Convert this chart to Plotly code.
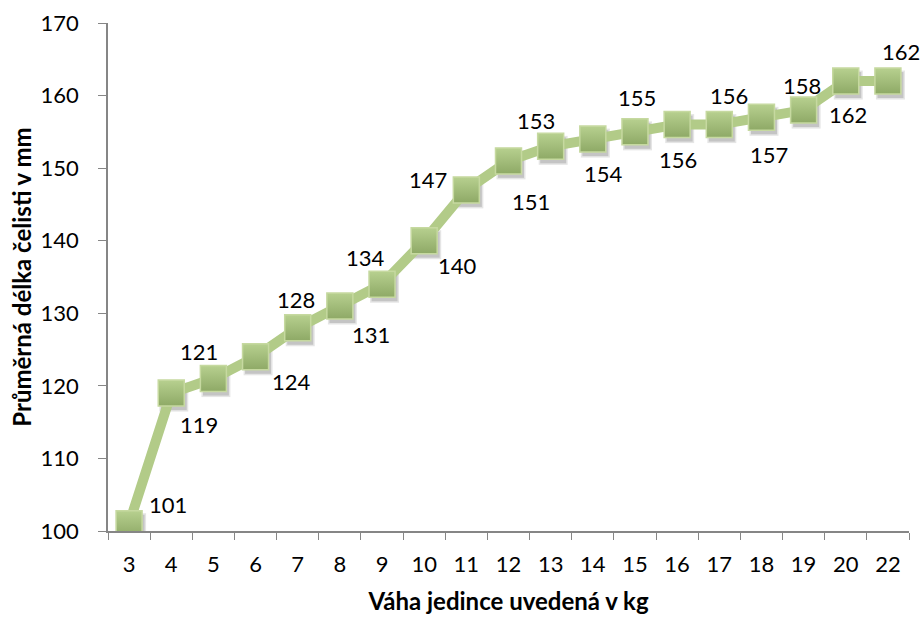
import plotly.graph_objects as go

# Weight categories (kg) and mean jaw length (mm)
vaha = ["3", "4", "5", "6", "7", "8", "9", "10", "11", "12",
        "13", "14", "15", "16", "17", "18", "19", "20", "22"]
delka = [101, 119, 121, 124, 128, 131, 134, 140, 147, 151,
         153, 154, 155, 156, 156, 157, 158, 162, 162]

# Pixel offsets of each value label relative to its marker
label_dx = [39, 28, -14, 36, -2, 31, -17, 33, -38, 22, -15, 11, 2, 1, 10, 8, -2, 2, 13]
label_dy = [-19, 31, -27, 25, -28, 28, -27, 25, -10, 41, -26, 34, -34, 35, -29, 37, -25, 33, -30]

FONT = "Lato"
AXIS_COLOR = "#868686"

Y_RANGE = [100, 170]
X_RANGE = [-0.5, len(vaha) - 0.5]
# Drop-shadow offset of the markers, expressed in axis units
SHADOW_DX = 0.06
SHADOW_DY = 0.55

fig = go.Figure()

# Soft shadow under the markers, drawn on a hidden, slightly shifted axis pair
fig.add_trace(go.Scatter(
    x=vaha, y=delka, xaxis="x", yaxis="y",
    mode="markers",
    marker=dict(symbol="square", size=29, color="rgba(0,0,0,0.10)",
                line=dict(width=0)),
    hoverinfo="skip", showlegend=False,
))
fig.add_trace(go.Scatter(
    x=vaha, y=delka, xaxis="x", yaxis="y",
    mode="markers",
    marker=dict(symbol="square", size=26, color="rgba(0,0,0,0.14)",
                line=dict(width=0)),
    hoverinfo="skip", showlegend=False,
))

# The series itself on the visible axes
fig.add_trace(go.Scatter(
    x=vaha, y=delka, xaxis="x2", yaxis="y2",
    mode="lines+markers",
    line=dict(color="#b2cb88", width=10),
    marker=dict(symbol="square", size=26, color="#b7d08f",
                gradient=dict(type="vertical", color="#8ea966"),
                line=dict(color="#c6d9a0", width=1.5)),
    hoverinfo="x+y",
    showlegend=False,
))

# Value labels, placed on the category index of each point
for i, (y, dx, dy) in enumerate(zip(delka, label_dx, label_dy)):
    fig.add_annotation(x=i, y=y, xref="x2", yref="y2", text=str(y),
                       showarrow=False, xshift=dx, yshift=-dy,
                       font=dict(family=FONT, size=22, color="#000000"))

fig.update_layout(
    width=923, height=619,
    margin=dict(l=108, r=14, t=23, b=88),
    paper_bgcolor="white", plot_bgcolor="white",
    font=dict(family=FONT, size=17, color="#000000"),
    xaxis=dict(
        type="category", visible=False,
        range=[X_RANGE[0] - SHADOW_DX, X_RANGE[1] - SHADOW_DX],
    ),
    yaxis=dict(
        visible=False,
        range=[Y_RANGE[0] + SHADOW_DY, Y_RANGE[1] + SHADOW_DY],
    ),
    xaxis2=dict(
        type="category", overlaying="x", side="bottom", range=X_RANGE,
        automargin=False,
        showgrid=False, zeroline=False,
        showline=True, linecolor=AXIS_COLOR, linewidth=1.5,
        ticks="outside", tickson="boundaries", ticklen=7, tickcolor=AXIS_COLOR,
        tickfont=dict(family=FONT, size=22),
        ticklabelstandoff=13,
        title=dict(text="<b>Váha jedince uvedená v kg</b>", standoff=17,
                   font=dict(family=FONT, size=24)),
    ),
    yaxis2=dict(
        overlaying="y", side="left", range=Y_RANGE, dtick=10,
        automargin=False,
        showgrid=False, zeroline=False,
        showline=True, linecolor=AXIS_COLOR, linewidth=1.5,
        ticks="outside", ticklen=8, tickcolor=AXIS_COLOR,
        tickfont=dict(family=FONT, size=22),
        ticklabelstandoff=15,
        title=dict(text="<b>Průměrná délka čelisti v mm</b>", standoff=2,
                   font=dict(family=FONT, size=24)),
    ),
)

fig.write_html("out.html")
